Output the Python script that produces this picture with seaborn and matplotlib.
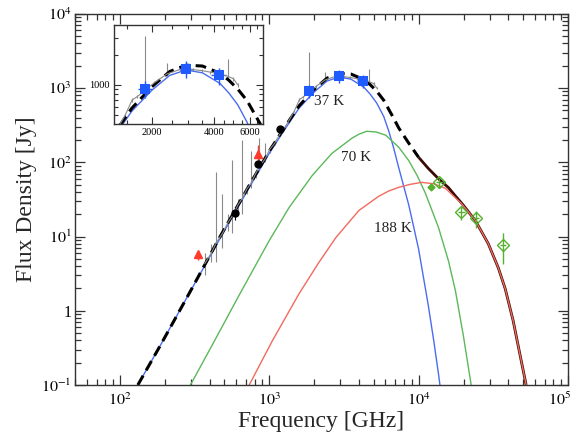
import numpy as np
import pandas as pd
import matplotlib
matplotlib.use('Agg')
import matplotlib.pyplot as plt
import matplotlib.transforms as mtransforms
import seaborn as sns
from matplotlib.ticker import FixedLocator, FixedFormatter, LogLocator, NullFormatter

# model components (GHz, Jy)
blue_nu = [132, 185, 293, 464, 736, 1000, 1259, 1585, 1995, 2438, 2930, 3524, 4300,
           4750, 5250, 5843, 6310, 6800, 7360, 8580, 9250, 10000, 11600, 12600, 13600, 14100]
blue_S = [0.10, 0.33, 1.75, 9.1, 46, 132, 270, 537, 883, 1244, 1410, 1320, 1030,
          825, 627, 415, 265, 158, 85, 27, 13.8, 6.8, 1.2, 0.41, 0.14, 0.08]

green_nu = [297, 417, 631, 1000, 1359, 1936, 2250, 2630, 3575, 4000, 4500, 5200, 6030,
            7360, 8580, 9800, 11130, 13600, 15850, 17650, 19950, 22500]
green_S = [0.10, 0.35, 1.64, 8.8, 24.6, 66, 93, 132, 211, 240, 262, 256, 232,
           160, 106, 66, 38, 13.2, 4.7, 1.86, 0.46, 0.10]

red_nu = [735, 1047, 1585, 2154, 2797, 3981, 5400, 6300, 7360, 8800, 10470, 12600,
          15140, 19360, 24000, 29290, 34150, 38020, 43000, 47150, 52500]
red_S = [0.10, 0.39, 1.7, 4.5, 9.7, 22.4, 34.8, 41, 46, 50.5, 53.7, 51.5,
         44.6, 27.9, 16.4, 8.0, 3.8, 1.98, 0.73, 0.29, 0.10]

# total model: dashed part and solid tail
sum_nu = [132, 185, 293, 464, 736, 1000, 1259, 1585, 1995, 2438, 2930, 3524, 4300,
          4750, 5250, 5843, 6310, 6800, 7360, 8580, 10000]
sum_S = [0.10, 0.33, 1.75, 9.6, 49, 141, 290, 576, 957, 1362, 1577, 1546, 1306,
         1110, 905, 687, 518, 395, 291, 182, 117]
tail_nu = [10000, 11600, 13600, 15850, 17650, 19950, 22500, 24000, 29290, 34150,
           38020, 43000, 47150, 52500]
tail_S = [117, 83, 60, 45.6, 35.2, 26.4, 19.3, 16.4, 8.0, 3.8, 1.98, 0.73, 0.29, 0.10]

# grey spectrum with error extents
grey_nu = [370, 410, 443, 486, 530, 567, 620, 661, 710, 759, 810, 858, 940, 1010, 1090,
           1180, 1280, 1380, 1472, 1594, 1690, 1847, 2050, 2370, 2746, 3182, 3500, 3855,
           4300, 4690, 5000, 5250]
grey_S = [4.3, 6.0, 8.3, 11.0, 15.5, 19.0, 27, 33, 44, 53, 70, 86, 112, 150, 182,
          240, 300, 390, 490, 700, 760, 880, 1050, 1290, 1430, 1420, 1390, 1340,
          1280, 1220, 1150, 1000]
grey_lo = [3.0, 4.5, 4.5, 7.0, 12, 11, 22, 20, 38, 45, 62, 80, 100, 135, 170,
           225, 285, 370, 470, 670, 730, 850, 1010, 1240, 1380, 1370, 1340, 1290,
           1230, 1170, 1100, 960]
grey_hi = [6.0, 8.0, 73, 38, 20, 106, 32, 198, 50, 140, 80, 211, 180, 165, 200,
           260, 320, 410, 510, 730, 790, 3100, 1090, 1660, 1480, 1470, 1440, 1390,
           1330, 1820, 1200, 1040]

# photometry
black_nu = [593, 845, 1178]
black_S = [20.7, 94, 279]
black_err = [4.0, 8.0, 20]

blue_pts_nu = [1848, 2930, 4236]
blue_pts_S = [912, 1452, 1244]

red_pts_nu = [336, 835]
red_pts_S = [5.9, 131]
red_pts_lo = [4.8, 99]
red_pts_hi = [6.4, 170]

dia_nu = [13800, 19360, 24360, 36900]
dia_S = [53.7, 21.1, 17.5, 7.8]
dia_frac = [0.15, 0.2, 0.25, 0.45]
dot_nu = [12200]
dot_S = [46]

labels = ['37 K', '70 K', '188 K']
label_nu = [1995, 3020, 5010]
label_S = [650, 117, 12.8]

c_blue = '#4a6cf0'
c_green = '#5cb85a'
c_red = '#f26a5e'
c_sq = '#1f5bff'
c_dia = '#55b02e'
c_tri = '#ff3a2a'
c_grey = '#8a8a8a'

sns.set_theme(style='ticks')
plt.rcParams['font.family'] = ['Liberation Serif', 'DejaVu Serif']
plt.rcParams['mathtext.fontset'] = 'stix'


def draw(a, small=False):
    a.set_xscale('log')
    a.set_yscale('log')
    lw = 1.0
    a.errorbar(grey_nu, grey_S,
               yerr=[np.array(grey_S) - np.array(grey_lo), np.array(grey_hi) - np.array(grey_S)],
               color=c_grey, lw=0.8, elinewidth=0.8, capsize=0)
    sns.lineplot(x=blue_nu, y=blue_S, ax=a, color=c_blue, lw=lw, sort=False, estimator=None)
    sns.lineplot(x=green_nu, y=green_S, ax=a, color=c_green, lw=lw, sort=False, estimator=None)
    a.plot(tail_nu, tail_S, color='#3a0a06', lw=2.0, solid_capstyle='butt')
    sns.lineplot(x=red_nu, y=red_S, ax=a, color=c_red, lw=lw, sort=False, estimator=None)
    a.plot(sum_nu, sum_S, color='black', lw=2.2, linestyle=(0, (3.5, 2.0)))

    # photometric points
    a.errorbar(black_nu, black_S, yerr=black_err, fmt='o', color='black', ms=5, elinewidth=0.8, capsize=0)
    a.errorbar(red_pts_nu, red_pts_S,
               yerr=[np.array(red_pts_S) - np.array(red_pts_lo), np.array(red_pts_hi) - np.array(red_pts_S)],
               fmt='^', color=c_tri, ms=5.5, elinewidth=1.0, capsize=0)
    a.errorbar(blue_pts_nu, blue_pts_S,
               yerr=0.2 * np.array(blue_pts_S), xerr=0.08 * np.array(blue_pts_nu),
               fmt='none', ecolor=c_sq, elinewidth=1.0, capsize=0)
    sns.scatterplot(x=blue_pts_nu, y=blue_pts_S, ax=a, marker='s', s=55 if small else 50,
                    color=c_sq, edgecolor=c_sq, linewidth=0, zorder=5)
    a.errorbar(dia_nu, dia_S, yerr=np.array(dia_frac) * np.array(dia_S),
               xerr=0.05 * np.array(dia_nu), fmt='D', mfc='none', mec=c_dia, ecolor=c_dia,
               ms=6, mew=1.0, elinewidth=1.0, capsize=0)
    a.plot(dot_nu, dot_S, 'D', color=c_dia, ms=3.5)


fig = plt.figure(figsize=(5.76, 4.34), dpi=100)
ax = fig.add_axes([0.130, 0.113, 0.856, 0.855])
draw(ax)
ax.set_xlim(50, 1e5)
ax.set_ylim(0.1, 1e4)
ax.set_xticks([1e2, 1e3, 1e4, 1e5])
ax.set_xticklabels(['$10^{2}$', '$10^{3}$', '$10^{4}$', '$10^{5}$'])
ax.set_yticks([0.1, 1, 10, 100, 1000, 10000])
ax.set_yticklabels(['$10^{-1}$', '1', '$10^{1}$', '$10^{2}$', '$10^{3}$', '$10^{4}$'])
ax.xaxis.set_minor_locator(LogLocator(base=10, subs=np.arange(2, 10), numticks=20))
ax.yaxis.set_minor_locator(LogLocator(base=10, subs=np.arange(2, 10), numticks=20))
ax.xaxis.set_minor_formatter(NullFormatter())
ax.yaxis.set_minor_formatter(NullFormatter())
ax.tick_params(which='both', direction='in', top=True, right=True, colors='#333333',
               labelcolor='black', labelsize=11.5, width=0.9)
ax.tick_params(which='major', length=7.5)
ax.tick_params(which='minor', length=4)
ax.tick_params(axis='y', pad=2.5)
ax.tick_params(axis='x', pad=5)
for s in ax.spines.values():
    s.set_color('#333333')
    s.set_linewidth(1.0)
ax.set_xlabel('Frequency [GHz]', fontsize=17, labelpad=1)
ax.set_ylabel('Flux Density [Jy]', fontsize=17, labelpad=3)

# keep the last x label inside the canvas (it sits right at the edge)
fig.canvas.draw()
last = ax.get_xticklabels()[-1]
last.set_transform(last.get_transform() + mtransforms.ScaledTranslation(-6 / 72, 0, fig.dpi_scale_trans))

for txt, xn, ys in zip(labels, label_nu, label_S):
    ax.text(xn, ys, txt, fontsize=11, va='center', ha='left', color='#222222')

# inset zoom on the peak
ins = fig.add_axes([0.198, 0.714, 0.259, 0.228])
draw(ins, small=True)
ins.set_xlim(1300, 7000)
ins.set_ylim(400, 4000)
ins.xaxis.set_major_locator(FixedLocator([2000, 4000, 6000]))
ins.xaxis.set_major_formatter(FixedFormatter(['2000', '4000', '6000']))
ins.xaxis.set_minor_locator(FixedLocator([1500, 2500, 3000, 3500, 4500, 5000, 5500, 6500]))
ins.yaxis.set_major_locator(FixedLocator([1000]))
ins.yaxis.set_major_formatter(FixedFormatter(['1000']))
ins.yaxis.set_minor_locator(FixedLocator([500, 600, 700, 800, 900, 2000, 3000]))
ins.xaxis.set_minor_formatter(NullFormatter())
ins.yaxis.set_minor_formatter(NullFormatter())
ins.tick_params(which='both', direction='in', top=True, right=True, colors='#333333',
                labelcolor='black', labelsize=7.5, width=0.8, pad=3)
ins.tick_params(which='major', length=5)
ins.tick_params(which='minor', length=3)
for s in ins.spines.values():
    s.set_color('#333333')
    s.set_linewidth(1.0)
ins.set_xlabel('')
ins.set_ylabel('')

fig.savefig('out.png', dpi=100)
